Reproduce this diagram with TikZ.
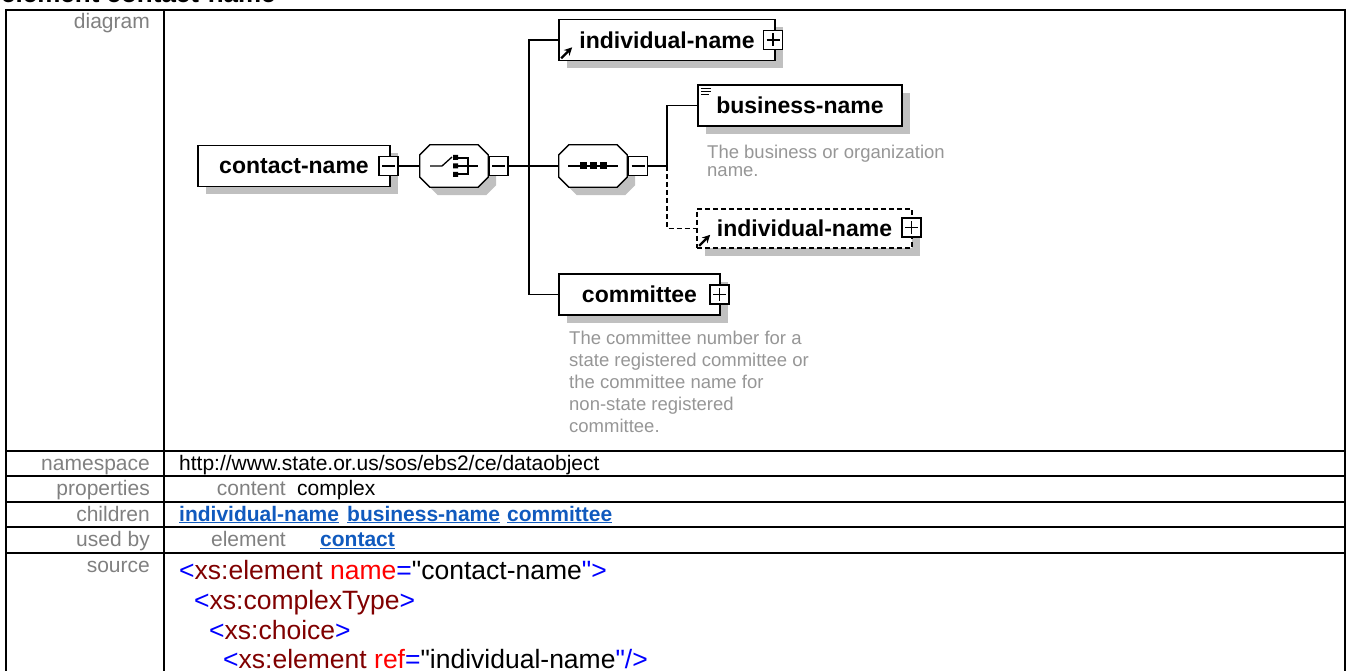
\documentclass[tikz,border=0pt]{standalone}
\usepackage{fontspec}
\setmainfont{Liberation Sans}
\newfontfamily\codefont{Liberation Sans}
\usetikzlibrary{shadows,arrows.meta}
\definecolor{labelgray}{RGB}{128,128,128}
\definecolor{descgray}{RGB}{150,150,150}
\definecolor{shadowgray}{RGB}{192,192,192}
\definecolor{linkblue}{RGB}{16,90,190}
\definecolor{xmlblue}{RGB}{0,0,255}
\definecolor{xmlred}{RGB}{255,0,0}
\definecolor{xmldark}{RGB}{128,0,0}
\newcommand{\compshape}[1]{%
  \fill[shadowgray] ([shift={(18pt,-8pt)}]#1.north west) -- ([shift={(-2pt,-8pt)}]#1.north east)
    -- ([shift={(8pt,-18pt)}]#1.north east) -- ([shift={(8pt,2pt)}]#1.south east)
    -- ([shift={(-2pt,-8pt)}]#1.south east) -- ([shift={(18pt,-8pt)}]#1.south west)
    -- ([shift={(8pt,2pt)}]#1.south west) -- ([shift={(8pt,-18pt)}]#1.north west) -- cycle;
  \filldraw[fill=white, line width=1.3pt] ([shift={(10pt,0pt)}]#1.north west) -- ([shift={(-10pt,0pt)}]#1.north east)
    -- ([shift={(0pt,-10pt)}]#1.north east) -- ([shift={(0pt,10pt)}]#1.south east)
    -- ([shift={(-10pt,0pt)}]#1.south east) -- ([shift={(10pt,0pt)}]#1.south west)
    -- ([shift={(0pt,10pt)}]#1.south west) -- ([shift={(0pt,-10pt)}]#1.north west) -- cycle;}

\begin{document}
\begin{tikzpicture}[x=1pt,y=-1pt,
    wire/.style={line width=1.3pt},
    elem/.style={draw, line width=1.6pt, fill=white, inner sep=0pt, minimum height=41pt,
      font=\fontsize{23}{23}\selectfont\bfseries,
      drop shadow={shadow xshift=8pt, shadow yshift=-8pt, fill=shadowgray, opacity=1}},
    comp/.style={rectangle, minimum width=68pt, minimum height=42pt, inner sep=0pt},
    btn/.style={draw, line width=1.3pt, fill=white, minimum size=19pt, inner sep=0pt},
    minus/.style={btn, path picture={\draw[line width=1.2pt] ([xshift=3pt]path picture bounding box.west) -- ([xshift=-3pt]path picture bounding box.east);}},
    plus/.style={btn, path picture={\draw[line width=1.2pt] ([xshift=3pt]path picture bounding box.west) -- ([xshift=-3pt]path picture bounding box.east)
      ([yshift=-3pt]path picture bounding box.north) -- ([yshift=3pt]path picture bounding box.south);}},
    optional/.style={dash pattern=on 5pt off 3pt},
    refarrow/.style={-{Stealth[length=8pt,width=8pt]}, line width=2.2pt},
    desc/.style={text=descgray, align=left, inner sep=0pt, anchor=north west},
    lab/.style={text=labelgray, font=\fontsize{21}{21}\selectfont, anchor=base east, inner sep=0pt},
    val/.style={font=\fontsize{21}{21}\selectfont, anchor=base west, inner sep=0pt},
    link/.style={val, text=linkblue, font=\fontsize{21}{21}\selectfont\bfseries},
    code/.style={font=\codefont\fontsize{26.5}{26.5}\selectfont, anchor=base west, inner sep=0pt}]
  \useasboundingbox (0,0) rectangle (1346,671);

  \node[anchor=base west, inner sep=0pt, font=\fontsize{26}{26}\selectfont\bfseries] (title) at (1,2.5) {element contact-name};

  % table
  \draw[line width=2pt] (5,10) -- (1345,10);
  \draw[line width=2pt] (6,9) -- (6,672);
  \draw[line width=2pt] (164,9) -- (164,672);
  \draw[line width=2pt] (1344.5,9) -- (1344.5,672);
  \foreach \y in {450.5,476,501.5,527,552.5}
    \draw[line width=2pt] (6,\y) -- (1344.5,\y);

  \node[lab] (lbdiag) at (150,28.5) {diagram};
  \node[lab] (lbns) at (150,470) {namespace};
  \node[lab] (lbprop) at (150,495.5) {properties};
  \node[lab] (lbchild) at (150,521) {children};
  \node[lab] (lbused) at (150,546.5) {used by};
  \node[lab] (lbsrc) at (150,572) {source};

  \node[val] (ns) at (179,470) {http://www.state.or.us/sos/ebs2/ce/dataobject};
  \node[lab] (propkey) at (286,495.5) {content};
  \node[val] (propval) at (297,495.5) {complex};
  \node[link] (ch1) at (179,521) {\underline{individual-name}};
  \node[link] (ch2) at (347,521) {\underline{business-name}};
  \node[link] (ch3) at (507,521) {\underline{committee}};
  \node[lab] (usedkey) at (286,546.5) {element};
  \node[link] (usedval) at (320,546.5) {\underline{contact}};

  \node[code] (src1) at (179,579) {\textcolor{xmlblue}{<}\textcolor{xmldark}{xs:element} \textcolor{xmlred}{name}\textcolor{xmlblue}{=}"contact-name\textcolor{xmlblue}{">}};
  \node[code] (src2) at (194,609) {\textcolor{xmlblue}{<}\textcolor{xmldark}{xs:complexType}\textcolor{xmlblue}{>}};
  \node[code] (src3) at (209,639) {\textcolor{xmlblue}{<}\textcolor{xmldark}{xs:choice}\textcolor{xmlblue}{>}};
  \node[code] (src4) at (223,668) {\textcolor{xmlblue}{<}\textcolor{xmldark}{xs:element} \textcolor{xmlred}{ref}\textcolor{xmlblue}{=}"individual-name\textcolor{xmlblue}{"/>}};

  % diagram
  \node[elem, minimum width=192pt] (contact) at (294,166) {contact-name};
  \node[minus] (cnbtn) at (388.5,166) {};
  \node[comp] (choice) at (454,166) {};
  \compshape{choice}
  \node[minus] (choicebtn) at (498.5,166) {};
  \node[comp] (seq) at (593,166) {};
  \compshape{seq}
  \node[minus] (seqbtn) at (638,166) {};

  \node[elem, minimum width=216pt] (indiv1) at (667,40) {individual-name};
  \node[plus] (indiv1btn) at (773,40) {};
  \node[elem, minimum width=204pt] (business) at (800,105.5) {business-name};
  \node[elem, optional, minimum width=215pt, minimum height=39pt] (indiv2) at (804.5,228.5) {individual-name};
  \node[plus] (indiv2btn) at (911.5,227.5) {};
  \node[elem, minimum width=161pt] (committee) at (639.5,294.5) {committee};
  \node[plus] (commbtn) at (719.5,294.5) {};

  \node[desc, font=\fontsize{18.5}{18}\selectfont] (busdesc) at (707,145) {The business or organization\\name.};
  \node[desc, font=\fontsize{18.5}{22}\selectfont] (commdesc) at (569,331) {The committee number for a\\state registered committee or\\the committee name for\\non-state registered\\committee.};

  \draw[refarrow] ([shift={(3pt,3pt)}]indiv1.south west) -- ++(11,-11);
  \draw[refarrow] ([shift={(3pt,3pt)}]indiv2.south west) -- ++(11,-11);
  \draw[line width=1pt] (701,89) -- (711,89) (701,92) -- (711,92) (701,95) -- (709,95);

  \begin{scope}[shift={(choice.center)}, line width=1.3pt]
    \draw (-24,0) -- (-12,0) -- (-2,-9);
    \fill (-1,-11) rectangle (4,-6) (-1,-2.5) rectangle (4,2.5) (-1,6) rectangle (4,11);
    \draw (4,-8) -| (14,8) -- (4,8);
    \draw (4,0) -- (24,0);
  \end{scope}
  \begin{scope}[shift={(seq.center)}]
    \draw[line width=1.3pt] (-25,0) -- (25,0);
    \foreach \dx in {-10,0,10}
      \fill (\dx-3.5,-3.5) rectangle (\dx+3.5,3.5);
  \end{scope}

  \coordinate (bus) at (529,166);
  \coordinate (sbus) at (667,166);
  \draw[wire] (cnbtn.east) -- (choice.west);
  \draw[wire] (choicebtn.east) -- (seq.west);
  \draw[wire] (indiv1.west) -| (bus) |- (committee.west);
  \draw[wire] (seqbtn.east) -- (sbus);
  \draw[wire] (business.west) -| (sbus);
  \draw[wire, optional] (sbus) |- (indiv2.west);
\end{tikzpicture}
\end{document}
